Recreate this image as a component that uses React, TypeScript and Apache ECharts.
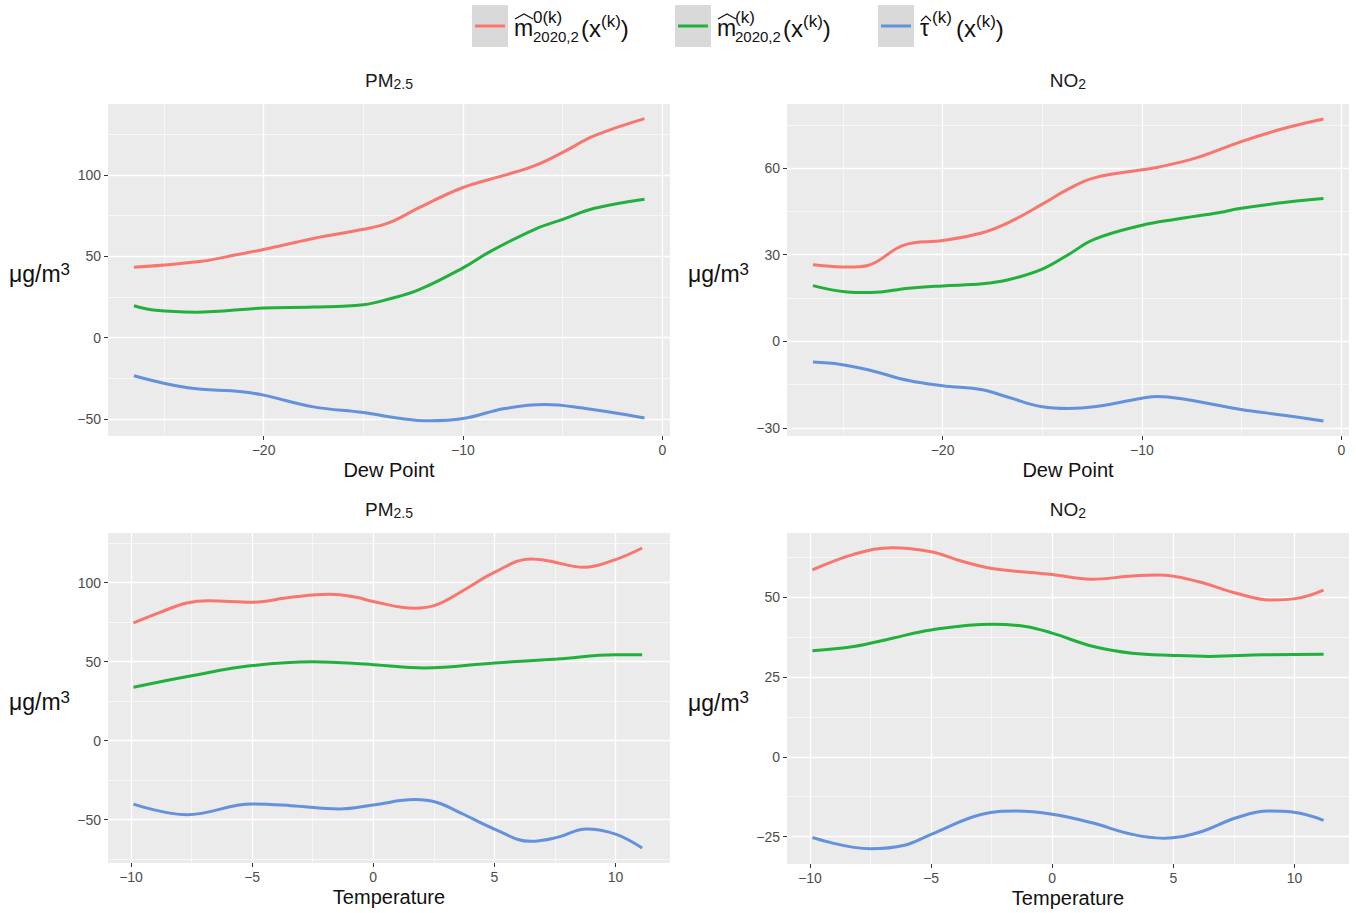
import React, { useEffect, useRef } from "react";
import * as echarts from "echarts";

// ---------- Data ----------
// Panel 1: PM2.5 vs Dew Point
const p1RedX = [-26.5, -23.1, -21.3, -20, -17.5, -15, -13.7, -12.2, -10, -7.9, -6.4, -5, -3.4, -0.9];
const p1RedY = [43.2, 46.9, 51, 54.1, 60.9, 66.5, 70.6, 79.8, 92.2, 99.8, 105.6, 113.8, 124, 134.5];
const p1GreenX = [-26.5, -25.4, -23.4, -20, -17.5, -15, -13.7, -12.2, -10, -8.6, -6.4, -5, -3.4, -0.9];
const p1GreenY = [19.5, 16.7, 15.6, 18.1, 18.7, 20.2, 23.7, 29.4, 42.8, 53.1, 66.5, 72.6, 79.4, 85];
const p1BlueX = [-26.5, -23.8, -21.1, -20, -17.5, -15, -13.1, -11.7, -10, -7.9, -5.9, -4.1, -0.9];
const p1BlueY = [-23.5, -30.9, -33.3, -35.4, -42.6, -46.1, -49.8, -51.2, -49.8, -43.6, -41.2, -43.2, -49.4];

// Panel 2: NO2 vs Dew Point
const p2RedX = [-26.5, -24.7, -23.8, -21.9, -20, -18, -16.7, -15, -13.7, -12.4, -10, -9.2, -7.2, -5.1, -2.9, -0.9];
const p2RedY = [26.5, 25.7, 26.2, 33.4, 34.9, 37.6, 41.1, 47.5, 52.7, 56.6, 59.4, 60.3, 63.7, 69, 73.7, 77];
const p2GreenX = [-26.5, -24.9, -23.6, -21.7, -20, -18, -16.7, -15, -13.7, -12.4, -10, -8.3, -6.1, -5.1, -2.9, -0.9];
const p2GreenY = [19.3, 17.2, 16.9, 18.4, 19.2, 19.9, 21.3, 25, 30, 35.3, 40.2, 42.3, 44.6, 46, 48.1, 49.5];
const p2BlueX = [-26.5, -25.1, -23.6, -21.7, -20, -18, -16.7, -15, -13.7, -12.4, -10, -9.2, -8.1, -5.1, -2.9, -0.9];
const p2BlueY = [-7.2, -8, -10.1, -13.6, -15.4, -16.8, -19.4, -22.7, -23.3, -22.7, -19.7, -19.1, -19.8, -23.5, -25.6, -27.6];

// Panel 3: PM2.5 vs Temperature
const p3RedX = [-9.9, -8.8, -7.7, -6.8, -5, -3.4, -1.8, -0.7, 0, 1.7, 2.6, 3.7, 5, 6.5, 7.2, 8.7, 10, 11.1];
const p3RedY = [74.5, 81.2, 87.1, 88.6, 87.6, 90.7, 92.6, 90.7, 88, 83.8, 85.9, 94.9, 106.5, 115, 113.9, 109.7, 114.6, 121.9];
const p3GreenX = [-9.9, -7.5, -5, -2.5, 0, 2.1, 5, 7.6, 10, 11.1];
const p3GreenY = [33.8, 41.1, 47.5, 50, 48.1, 46, 49.2, 51.7, 54.4, 54.4];
const p3BlueX = [-9.9, -7.7, -5, -3.4, -1.4, 0, 1.7, 2.6, 3.7, 5, 6.5, 7.6, 8.8, 10, 11.1];
const p3BlueY = [-40.1, -46.8, -40.1, -41.1, -43.2, -40.7, -37.3, -39, -46.4, -55.9, -63.7, -61.2, -55.9, -59.1, -67.9];

// Panel 4: NO2 vs Temperature
const p4RedX = [-9.9, -8.2, -6.6, -5, -3.8, -2.5, 0, 1.6, 3.3, 4.4, 6, 7.6, 9, 10.1, 11.2];
const p4RedY = [58.6, 63.5, 65.6, 64.3, 61.5, 59.1, 57.2, 55.7, 56.7, 57, 55, 51.3, 49.2, 49.7, 52.3];
const p4GreenX = [-9.9, -8.2, -6.6, -5, -2.5, -1.1, 0, 1.7, 3.3, 5, 6.5, 8.7, 11.2];
const p4GreenY = [33.3, 34.6, 37.2, 39.8, 41.6, 40.9, 38.8, 34.6, 32.5, 31.8, 31.5, 32, 32.2];
const p4BlueX = [-9.9, -7.5, -6.1, -5, -2.9, -1.5, 0, 1.6, 3.3, 4.6, 6, 7.6, 8.9, 9.9, 11.2];
const p4BlueY = [-25.3, -28.8, -27.7, -24.3, -18, -17, -18, -20.6, -24.3, -25.5, -23.8, -19.1, -17, -17.3, -19.9];

// Tick labels / gridlines
const dewTicks = [-20, -10, 0];
const dewMinor = [-25, -15, -5];
const tempTicks = [-10, -5, 0, 5, 10];
const tempMinor = [-7.5, -2.5, 2.5, 7.5];
const p1YTicks = [-50, 0, 50, 100];
const p1YMinor = [-25, 25, 75, 125];
const p2YTicks = [-30, 0, 30, 60];
const p2YMinor = [-15, 15, 45, 75];
const p3YTicks = [-50, 0, 50, 100];
const p3YMinor = [-75, -25, 25, 75, 125];
const p4YTicks = [-25, 0, 25, 50];
const p4YMinor = [-12.5, 12.5, 37.5, 62.5];

const seriesNames = ["m̂0(k) 2020,2(x(k))", "m̂(k) 2020,2(x(k))", "τ̂(k)(x(k))"];
const colors = ["#F8766D", "#22B03C", "#6391DB"];

const FONT = "'Liberation Sans', Arial, Helvetica, sans-serif";

const zip = (xs: number[], ys: number[]) => xs.map((x, i) => [x, ys[i]]);
const fmt = (v: number) => String(v).replace("-", "\u2212");

const panels = [
  {
    grid: { left: 108, top: 104, width: 562, height: 332 },
    xRange: [-27.8, 0.38], yRange: [-60.5, 143.5],
    xTicks: dewTicks, xMinor: dewMinor, yTicks: p1YTicks, yMinor: p1YMinor,
    xName: "Dew Point", title: "PM", sub: "2.5",
    lines: [zip(p1RedX, p1RedY), zip(p1GreenX, p1GreenY), zip(p1BlueX, p1BlueY)],
  },
  {
    grid: { left: 787, top: 104, width: 562, height: 332 },
    xRange: [-27.8, 0.38], yRange: [-32.8, 82.2],
    xTicks: dewTicks, xMinor: dewMinor, yTicks: p2YTicks, yMinor: p2YMinor,
    xName: "Dew Point", title: "NO", sub: "2",
    lines: [zip(p2RedX, p2RedY), zip(p2GreenX, p2GreenY), zip(p2BlueX, p2BlueY)],
  },
  {
    grid: { left: 108, top: 533, width: 562, height: 330 },
    xRange: [-10.95, 12.25], yRange: [-77.4, 131.4],
    xTicks: tempTicks, xMinor: tempMinor, yTicks: p3YTicks, yMinor: p3YMinor,
    xName: "Temperature", title: "PM", sub: "2.5",
    lines: [zip(p3RedX, p3RedY), zip(p3GreenX, p3GreenY), zip(p3BlueX, p3BlueY)],
  },
  {
    grid: { left: 787, top: 533, width: 562, height: 331 },
    xRange: [-10.95, 12.25], yRange: [-33.6, 70.2],
    xTicks: tempTicks, xMinor: tempMinor, yTicks: p4YTicks, yMinor: p4YMinor,
    xName: "Temperature", title: "NO", sub: "2",
    lines: [zip(p4RedX, p4RedY), zip(p4GreenX, p4GreenY), zip(p4BlueX, p4BlueY)],
  },
];

function buildOption() {
  const grids: any[] = [];
  const xAxes: any[] = [];
  const yAxes: any[] = [];
  const series: any[] = [];
  const graphic: any[] = [];

  panels.forEach((p, i) => {
    grids.push({
      ...p.grid,
      show: true,
      backgroundColor: "#EBEBEB",
      borderWidth: 0,
      containLabel: false,
    });
    xAxes.push({
      type: "value",
      gridIndex: i,
      min: p.xRange[0],
      max: p.xRange[1],
      name: p.xName,
      nameLocation: "middle",
      nameGap: 24,
      nameTextStyle: { color: "#111", fontSize: 20, fontFamily: FONT },
      axisLine: { show: false, onZero: false },
      axisTick: { show: true, length: 4, lineStyle: { color: "#333", width: 1 }, customValues: p.xTicks },
      axisLabel: { show: true, margin: 7, color: "#4D4D4D", fontSize: 14, fontFamily: FONT, customValues: p.xTicks, formatter: fmt },
      splitLine: { show: false },
    });
    yAxes.push({
      type: "value",
      gridIndex: i,
      min: p.yRange[0],
      max: p.yRange[1],
      axisLine: { show: false, onZero: false },
      axisTick: { show: true, length: 4, lineStyle: { color: "#333", width: 1 }, customValues: p.yTicks },
      axisLabel: { show: true, margin: 7, color: "#4D4D4D", fontSize: 14, fontFamily: FONT, customValues: p.yTicks, formatter: fmt },
      splitLine: { show: false },
    });

    // gridlines via markLine on a silent helper series
    const ml: any[] = [];
    p.xMinor.forEach((v) => ml.push({ xAxis: v, lineStyle: { width: 0.6 } }));
    p.yMinor.forEach((v) => ml.push({ yAxis: v, lineStyle: { width: 0.6 } }));
    p.xTicks.forEach((v) => ml.push({ xAxis: v, lineStyle: { width: 1.3 } }));
    p.yTicks.forEach((v) => ml.push({ yAxis: v, lineStyle: { width: 1.3 } }));
    series.push({
      type: "line",
      name: "grid" + i,
      xAxisIndex: i,
      yAxisIndex: i,
      data: [p.lines[0][0]],
      showSymbol: false,
      symbol: "none",
      lineStyle: { opacity: 0 },
      silent: true,
      z: 1,
      markLine: {
        silent: true,
        z: 1,
        symbol: ["none", "none"],
        label: { show: false },
        lineStyle: { color: "#FFFFFF", type: "solid", width: 1 },
        emphasis: { disabled: true },
        data: ml,
      },
    });

    p.lines.forEach((d, k) => {
      series.push({
        type: "line",
        name: seriesNames[k],
        xAxisIndex: i,
        yAxisIndex: i,
        data: d,
        smooth: 0.4,
        showSymbol: false,
        symbol: "none",
        z: 3,
        lineStyle: { color: colors[k], width: 3 },
        itemStyle: { color: colors[k] },
      });
    });

    // panel title
    graphic.push({
      type: "text",
      x: p.grid.left + p.grid.width / 2,
      y: p.grid.top - 24,
      style: {
        text: `{a|${p.title}}{b|${p.sub}}`,
        align: "center",
        verticalAlign: "middle",
        rich: {
          a: { fontSize: 19, fontFamily: FONT, fill: "#1a1a1a", lineHeight: 22 },
          b: { fontSize: 14, fontFamily: FONT, fill: "#1a1a1a", lineHeight: 13, verticalAlign: "bottom" },
        },
      },
    });

    // y axis name
    graphic.push({
      type: "text",
      x: p.grid.left - 99,
      y: p.grid.top + p.grid.height / 2 + 4,
      style: {
        text: "{a|μg/m}{b|3}",
        align: "left",
        verticalAlign: "middle",
        rich: {
          a: { fontSize: 23, fontFamily: FONT, fill: "#111", lineHeight: 27 },
          b: { fontSize: 17, fontFamily: FONT, fill: "#111", lineHeight: 15, verticalAlign: "top" },
        },
      },
    });
  });

  // ---------- Legend (drawn as graphic) ----------
  const keys = [
    { rx: 472, head: "m", hatW: 18, hatY: 14, sup: "0(k)", sub: "2020,2", supX: 533, tailX: 581 },
    { rx: 675, head: "m", hatW: 18, hatY: 14, sup: "(k)", sub: "2020,2", supX: 735, tailX: 783 },
    { rx: 878, head: "\u03C4", hatW: 10, hatY: 16, sup: "(k)", sub: "", supX: 932, tailX: 956 },
  ];
  keys.forEach((k, i) => {
    const hx = k.rx + 42;
    graphic.push({ type: "rect", shape: { x: k.rx, y: 5, width: 36, height: 42 }, style: { fill: "#D9D9D9" } });
    graphic.push({
      type: "line",
      shape: { x1: k.rx + 3, y1: 26, x2: k.rx + 33, y2: 26 },
      style: { stroke: colors[i], lineWidth: 3 },
    });
    graphic.push({
      type: "text", x: hx, y: 28,
      style: { text: k.head, fontSize: 23, fontFamily: FONT, fill: "#111", align: "left", verticalAlign: "middle" },
    });
    graphic.push({
      type: "polyline",
      shape: { points: [[hx + 1, k.hatY + 5], [hx + 1 + k.hatW / 2, k.hatY], [hx + 1 + k.hatW, k.hatY + 5]] },
      style: { stroke: "#111", lineWidth: 1.2, fill: null },
    });
    graphic.push({
      type: "text", x: k.supX, y: 17,
      style: { text: k.sup, fontSize: 17, fontFamily: FONT, fill: "#111", align: "left", verticalAlign: "middle" },
    });
    if (k.sub) {
      graphic.push({
        type: "text", x: k.supX, y: 36,
        style: { text: k.sub, fontSize: 15, fontFamily: FONT, fill: "#111", align: "left", verticalAlign: "middle" },
      });
    }
    graphic.push({
      type: "text", x: k.tailX, y: 28,
      style: {
        text: "{a|(x}{b|(k)}{a|)}",
        align: "left",
        verticalAlign: "middle",
        rich: {
          a: { fontSize: 24, fontFamily: FONT, fill: "#111", lineHeight: 30 },
          b: { fontSize: 17, fontFamily: FONT, fill: "#111", lineHeight: 19, verticalAlign: "top" },
        },
      },
    });
  });

  return {
    animation: false,
    backgroundColor: "#FFFFFF",
    grid: grids,
    xAxis: xAxes,
    yAxis: yAxes,
    series,
    graphic,
  };
}

export default function App() {
  const ref = useRef<HTMLDivElement>(null);
  useEffect(() => {
    if (!ref.current) return;
    const chart = echarts.init(ref.current, undefined, { renderer: "svg" });
    chart.setOption(buildOption() as any);
    return () => chart.dispose();
  }, []);
  return (
    <div
      ref={ref}
      style={{ position: "fixed", left: 0, top: 0, width: 1356, height: 913, background: "#fff" }}
    />
  );
}
